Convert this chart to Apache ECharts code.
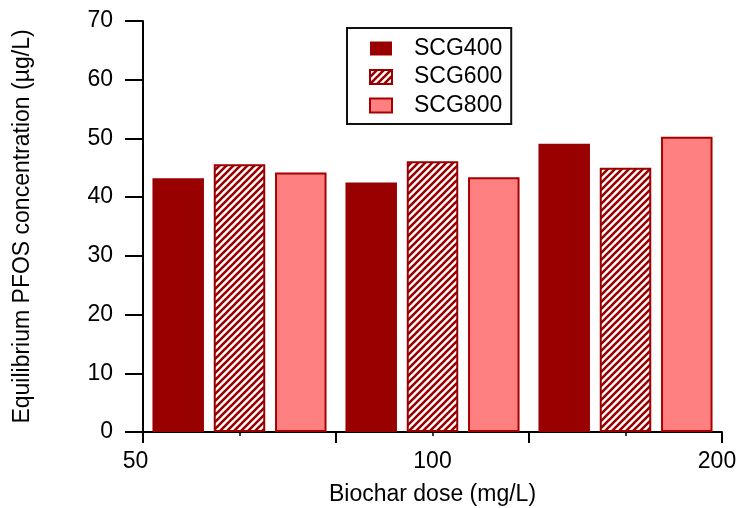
<!DOCTYPE html>
<html>
<head>
<meta charset="utf-8">
<script src="https://cdn.jsdelivr.net/npm/echarts@6/dist/echarts.min.js"></script>
<style>
  html, body { margin: 0; padding: 0; background: #fff; }
  #chart { width: 738px; height: 508px; }
</style>
</head>
<body>
<div id="chart"></div>
<script>
var doses = ['50', '100', '200'];
var tickLabels = ['50', '100', '200'];
var scg400 = [43.2, 42.5, 49.1];
var scg600 = [45.6, 46.1, 45.0];
var scg800 = [44.2, 43.4, 50.3];

var FONT = 'Liberation Sans';
var DARK = '#990000';

/* hatch pattern for SCG600 */
var hatch = document.createElement('canvas');
hatch.width = 7;
hatch.height = 7;
var ctx = hatch.getContext('2d');
ctx.fillStyle = '#fff';
ctx.fillRect(0, 0, 7, 7);
ctx.strokeStyle = DARK;
ctx.lineWidth = 2.6;
ctx.beginPath();
ctx.moveTo(-1, 8); ctx.lineTo(8, -1);
ctx.moveTo(-1, 1); ctx.lineTo(1, -1);
ctx.moveTo(6, 8); ctx.lineTo(8, 6);
ctx.stroke();

var myChart = echarts.init(document.getElementById('chart'));

var option = {
    animation: false,
    textStyle: { fontFamily: FONT },
    grid: { left: 143, right: 16, top: 21, bottom: 76, outerBoundsMode: 'none', containLabel: false },
    legend: {
        orient: 'vertical',
        left: 347,
        top: 28,
        icon: 'rect',
        itemWidth: 22,
        itemHeight: 14,
        itemGap: 5.5,
        padding: [9, 9, 7, 22],
        borderColor: '#111',
        borderWidth: 2,
        textStyle: { fontFamily: FONT, fontSize: 23, color: '#000', lineHeight: 22, padding: [0, 0, 0, 17] },
        data: ['SCG400', 'SCG600', 'SCG800']
    },
    xAxis: [
        {
            type: 'category',
            position: 'bottom',
            offset: 4,
            data: doses,
            axisLine: { show: true, lineStyle: { color: '#000', width: 2 } },
            axisTick: { show: true, interval: 0, length: 11, lineStyle: { color: '#000', width: 2 } },
            axisLabel: { show: false }
        },
        {
            type: 'category',
            position: 'bottom',
            offset: 4,
            data: doses,
            axisLine: { show: false },
            axisTick: { show: true, interval: 0, alignWithLabel: true, inside: true, length: 4, lineStyle: { color: '#000', width: 1.5 } },
            axisLabel: { show: false }
        },
        {
            type: 'value',
            position: 'bottom',
            offset: 4,
            min: 0,
            max: 2,
            interval: 1,
            axisLine: { show: false },
            axisTick: { show: false },
            splitLine: { show: false },
            axisLabel: {
                margin: 14,
                fontSize: 23,
                color: '#000',
                formatter: function (v) {
                    var t = tickLabels[v];
                    if (v === 0) return '{a|' + t + '}';
                    if (v === 2) return '{b|' + t + '}';
                    return t;
                },
                rich: {
                    a: { fontSize: 23, fontFamily: FONT, color: '#000', padding: [0, 15, 0, 0] },
                    b: { fontSize: 23, fontFamily: FONT, color: '#000', padding: [0, 10, 0, 0] }
                }
            },
            name: 'Biochar dose (mg/L)',
            nameLocation: 'middle',
            nameGap: 47,
            nameTextStyle: { fontSize: 23, color: '#000', fontFamily: FONT }
        }
    ],
    yAxis: {
        type: 'value',
        min: 0,
        max: 70,
        interval: 10,
        offset: 3,
        axisLine: { show: true, lineStyle: { color: '#000', width: 2 } },
        axisTick: { show: true, length: 18, lineStyle: { color: '#000', width: 2 } },
        axisLabel: { margin: 27, fontSize: 23, color: '#000' },
        splitLine: { show: false },
        name: 'Equilibrium PFOS concentration (\u00b5g/L)',
        nameLocation: 'middle',
        nameGap: 106,
        nameTextStyle: { fontSize: 23, color: '#000', fontFamily: FONT }
    },
    series: [
        {
            name: 'SCG400',
            type: 'bar',
            xAxisIndex: 0,
            barWidth: 51.5,
            barGap: '19%',
            data: scg400,
            itemStyle: { color: DARK }
        },
        {
            name: 'SCG600',
            type: 'bar',
            xAxisIndex: 0,
            barWidth: 51.5,
            barGap: '19%',
            data: scg600,
            itemStyle: { color: { image: hatch, repeat: 'repeat' }, borderColor: DARK, borderWidth: 2 }
        },
        {
            name: 'SCG800',
            type: 'bar',
            xAxisIndex: 0,
            barWidth: 51.5,
            barGap: '19%',
            data: scg800,
            itemStyle: { color: '#FF8080', borderColor: '#A80000', borderWidth: 2 }
        }
    ]
};
myChart.setOption(option);
</script>
</body>
</html>
